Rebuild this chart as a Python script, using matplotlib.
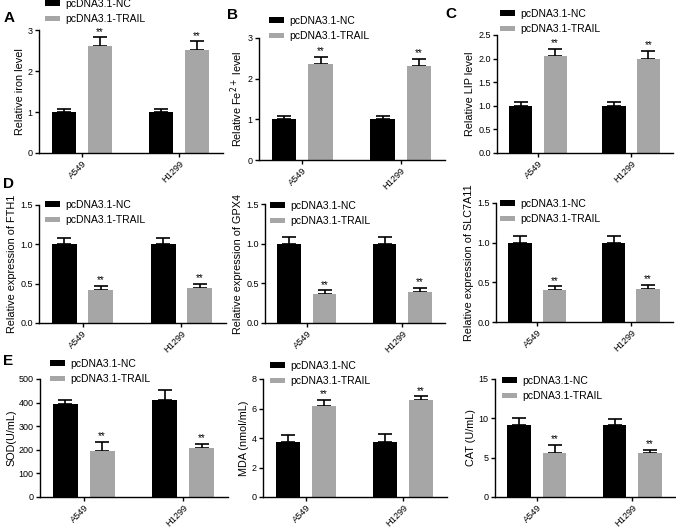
import numpy as np
import matplotlib
matplotlib.use('Agg')
import matplotlib.pyplot as plt

plt.rcParams['font.family'] = ['Liberation Sans', 'DejaVu Sans']

cells = ['A549', 'H1299']
groups = ['pcDNA3.1-NC', 'pcDNA3.1-TRAIL']

iron_nc = [1.0, 1.0]
iron_nc_err = [0.08, 0.08]
iron_trail = [2.62, 2.52]
iron_trail_err = [0.2, 0.2]

fe_nc = [1.0, 1.0]
fe_nc_err = [0.08, 0.08]
fe_trail = [2.35, 2.30]
fe_trail_err = [0.18, 0.18]

lip_nc = [1.0, 1.0]
lip_nc_err = [0.08, 0.08]
lip_trail = [2.05, 2.0]
lip_trail_err = [0.15, 0.16]

fth1_nc = [1.0, 1.0]
fth1_nc_err = [0.08, 0.08]
fth1_trail = [0.42, 0.45]
fth1_trail_err = [0.05, 0.05]

gpx4_nc = [1.0, 1.0]
gpx4_nc_err = [0.08, 0.08]
gpx4_trail = [0.36, 0.39]
gpx4_trail_err = [0.05, 0.05]

slc_nc = [1.0, 1.0]
slc_nc_err = [0.08, 0.08]
slc_trail = [0.40, 0.42]
slc_trail_err = [0.05, 0.05]

sod_nc = [395, 410]
sod_nc_err = [18, 42]
sod_trail = [197, 208]
sod_trail_err = [35, 16]

mda_nc = [3.75, 3.75]
mda_nc_err = [0.42, 0.5]
mda_trail = [6.15, 6.6]
mda_trail_err = [0.42, 0.22]

cat_nc = [9.1, 9.1]
cat_nc_err = [0.95, 0.8]
cat_trail = [5.6, 5.65]
cat_trail_err = [1.0, 0.35]

W, H = 676, 528
fig = plt.figure(figsize=(W / 100, H / 100), dpi=100)

# (ylabel, yticks, tick format, nc, nc_err, trail, trail_err, axes px box, legend px)
panels = [
    ('Relative iron level', [0, 1, 2, 3], '%d', iron_nc, iron_nc_err, iron_trail, iron_trail_err,
     (39, 223, 30, 153), (45, 5)),
    ('Relative Fe$^{2+}$ level', [0, 1, 2, 3], '%d', fe_nc, fe_nc_err, fe_trail, fe_trail_err,
     (259, 445, 38, 160), (269, 22)),
    ('Relative LIP level', [0, 0.5, 1.0, 1.5, 2.0, 2.5], '%.1f', lip_nc, lip_nc_err, lip_trail, lip_trail_err,
     (497, 673, 35, 153), (500, 15)),
    ('Relative expression of FTH1', [0, 0.5, 1.0, 1.5], '%.1f', fth1_nc, fth1_nc_err, fth1_trail, fth1_trail_err,
     (39, 226, 205, 323), (45, 206)),
    ('Relative expression of GPX4', [0, 0.5, 1.0, 1.5], '%.1f', gpx4_nc, gpx4_nc_err, gpx4_trail, gpx4_trail_err,
     (265, 445, 204, 323), (270, 207)),
    ('Relative expression of SLC7A11', [0, 0.5, 1.0, 1.5], '%.1f', slc_nc, slc_nc_err, slc_trail, slc_trail_err,
     (496, 673, 203, 322), (500, 205)),
    ('SOD(U/mL)', [0, 100, 200, 300, 400, 500], '%d', sod_nc, sod_nc_err, sod_trail, sod_trail_err,
     (40, 228, 379, 497), (50, 365)),
    ('MDA (nmol/mL)', [0, 2, 4, 6, 8], '%d', mda_nc, mda_nc_err, mda_trail, mda_trail_err,
     (263, 447, 379, 497), (270, 367)),
    ('CAT (U/mL)', [0, 5, 10, 15], '%d', cat_nc, cat_nc_err, cat_trail, cat_trail_err,
     (495, 675, 379, 497), (502, 382)),
]

x = np.arange(len(cells))
bw = 0.25
off = 0.185
grey = '#a6a6a6'

for ylab, yt, fmt, nc, nce, tr, tre, box, leg in panels:
    l, r, t, b = box
    ax = fig.add_axes([l / W, 1 - b / H, (r - l) / W, (b - t) / H])
    ax.bar(x - off, nc, bw, color='black', label=groups[0], zorder=2)
    ax.bar(x + off, tr, bw, color=grey, label=groups[1], zorder=2)
    for xs, v, e in ((x - off, nc, nce), (x + off, tr, tre)):
        ax.errorbar(xs, v, yerr=[np.zeros(len(e)), e], fmt='none', ecolor='black',
                    elinewidth=1.2, capsize=5, capthick=1.2, zorder=1)
    for xi, v, e in zip(x + off, tr, tre):
        ax.annotate('**', (xi, v + e), xytext=(0, 0.5), textcoords='offset points',
                    ha='center', va='bottom', fontsize=7)
    ax.set_xlim(-0.44, 1.45)
    ax.set_ylim(0, yt[-1])
    ax.set_yticks(yt)
    ax.set_yticklabels([fmt % v for v in yt], fontsize=6.5)
    ax.set_xticks(x)
    ax.set_xticklabels(cells, rotation=45, ha='right', rotation_mode='anchor', fontsize=6.6)
    ax.set_ylabel(ylab, fontsize=7.8, labelpad=2)
    for s in ('top', 'right'):
        ax.spines[s].set_visible(False)
    for s in ('left', 'bottom'):
        ax.spines[s].set_linewidth(1.0)
    ax.tick_params(axis='both', length=3, width=1.0, pad=1.5)
    ax.tick_params(axis='x', pad=1)
    ax.legend(loc='upper left', bbox_to_anchor=(leg[0] / W, 1 - (leg[1] - 6) / H),
              bbox_transform=fig.transFigure, frameon=False, fontsize=7.5,
              handlelength=1.4, handleheight=0.5, handletextpad=0.5,
              labelspacing=0.5, borderpad=0, borderaxespad=0)

for letter, px, py in (('A', 4, 22), ('B', 227, 19), ('C', 445, 18), ('D', 3, 188), ('E', 3, 365)):
    fig.text(px / W, 1 - py / H, letter, fontsize=11, fontweight='bold', va='baseline')

fig.savefig('out.png', dpi=100)
